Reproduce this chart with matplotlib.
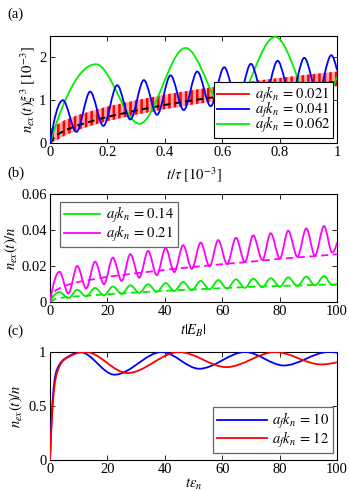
import numpy as np
import matplotlib
matplotlib.use("Agg")
import matplotlib.pyplot as plt
from matplotlib.path import Path
from matplotlib.patches import PathPatch
from matplotlib.lines import Line2D
from matplotlib.ticker import FuncFormatter

plt.rcParams['font.family'] = ['Liberation Serif', 'DejaVu Serif']
plt.rcParams['mathtext.fontset'] = 'stix'
plt.rcParams['font.size'] = 10.5
plt.rcParams['hatch.linewidth'] = 1.8

# ---------------- Panel (a) data ----------------
a_labels = [r'$a_fk_n\,=\,0.021$', r'$a_fk_n\,=\,0.041$', r'$a_fk_n\,=\,0.062$']
# red (0.021): fast oscillation band (lower / upper envelope)
red_t = [0, 0.02, 0.05, 0.1, 0.15, 0.2, 0.3, 0.4, 0.5, 0.6, 0.7, 0.8, 0.9, 1.0]
red_lo = [0, 0.05, 0.17, 0.31, 0.42, 0.51, 0.66, 0.79, 0.90, 1.00, 1.10, 1.18, 1.26, 1.33]
red_hi = [0.33, 0.41, 0.53, 0.66, 0.76, 0.85, 1.00, 1.13, 1.24, 1.34, 1.44, 1.52, 1.60, 1.67]
# black dashed mean
dash_t = [0, 0.02, 0.05, 0.1, 0.15, 0.2, 0.3, 0.4, 0.5, 0.6, 0.7, 0.8, 0.9, 1.0]
dash_y = [0, 0.17, 0.29, 0.42, 0.52, 0.61, 0.76, 0.89, 1.00, 1.10, 1.20, 1.28, 1.36, 1.43]
# blue (0.041): extrema
blue_t = [0, 0.045, 0.092, 0.140, 0.186, 0.234, 0.280, 0.327, 0.373, 0.420, 0.466,
          0.513, 0.560, 0.607, 0.653, 0.700, 0.746, 0.793, 0.840, 0.886, 0.933, 0.980, 1.0]
blue_y = [0, 1.00, 0.26, 1.20, 0.40, 1.35, 0.55, 1.47, 0.66, 1.58, 0.77,
          1.67, 0.86, 1.77, 0.94, 1.85, 1.02, 1.92, 1.08, 1.99, 1.14, 2.05, 1.70]
# green (0.062): extrema
green_t = [0, 0.160, 0.312, 0.472, 0.622, 0.785, 0.930, 1.0]
green_y = [0, 1.84, 0.45, 2.22, 0.65, 2.48, 0.75, 1.55]

# ---------------- Panel (b) data ----------------
b_labels = [r'$a_fk_n\,=\,0.14$', r'$a_fk_n\,=\,0.21$']
b_t = [0, 3.3, 6.4, 9.5, 12.6, 15.7, 18.8, 21.9, 25.0, 28.0, 31.1, 34.2, 37.2, 40.3, 43.3,
       46.4, 49.4, 52.5, 55.6, 58.6, 61.7, 64.8, 67.9, 70.8, 74.0, 76.9, 80.1, 83.0, 86.2,
       89.3, 92.3, 95.5, 98.3, 100]
mag_y = [0, 0.0168, 0.0047, 0.0200, 0.0075, 0.0224, 0.0099, 0.0246, 0.0117, 0.0266, 0.0135,
         0.0284, 0.0149, 0.0300, 0.0166, 0.0316, 0.0184, 0.0330, 0.0198, 0.0344, 0.0210,
         0.0357, 0.0222, 0.0370, 0.0233, 0.0382, 0.0242, 0.0396, 0.0251, 0.0409, 0.0258,
         0.0422, 0.0275, 0.0330]
grn_y = [0, 0.0055, 0.0022, 0.0068, 0.0031, 0.0078, 0.0038, 0.0086, 0.0045, 0.0093, 0.0051,
         0.0099, 0.0056, 0.0105, 0.0061, 0.0111, 0.0066, 0.0117, 0.0070, 0.0122, 0.0074,
         0.0126, 0.0078, 0.0130, 0.0082, 0.0132, 0.0085, 0.0137, 0.0089, 0.0141, 0.0092,
         0.0144, 0.0094, 0.0100]
magd_t = [0, 1, 2, 5, 10, 20, 30, 40, 50, 60, 70, 80, 90, 100]
magd_y = [0, 0.0045, 0.0065, 0.0090, 0.0112, 0.0140, 0.0160, 0.0178, 0.0195, 0.0210,
          0.0224, 0.0240, 0.0252, 0.0265]
grnd_t = [0, 2, 5, 10, 20, 30, 40, 50, 60, 70, 80, 90, 100]
grnd_y = [0, 0.0018, 0.0026, 0.0032, 0.0043, 0.0053, 0.0062, 0.0070, 0.0077, 0.0084,
          0.0089, 0.0094, 0.0098]

# ---------------- Panel (c) data ----------------
c_labels = [r'$a_fk_n\,=\,10$', r'$a_fk_n\,=\,12$']
c_blue_t = [0, 0.5, 1, 1.5, 2, 3, 4, 5, 6.5, 8, 10.5, 22.5, 39, 52, 68, 81.5, 97, 100]
c_blue_y = [0, 0.35, 0.58, 0.72, 0.80, 0.87, 0.91, 0.935, 0.96, 0.98, 1.0, 0.79, 1.0,
            0.845, 1.0, 0.875, 1.0, 0.995]
c_red_t = [0, 0.5, 1, 1.5, 2, 3, 4, 5, 6.5, 8, 10, 12.5, 27, 45, 61.5, 78.5, 94.5, 100]
c_red_y = [0, 0.30, 0.52, 0.67, 0.76, 0.85, 0.90, 0.93, 0.955, 0.975, 0.992, 1.0, 0.805,
           1.0, 0.86, 1.0, 0.885, 0.905]


def pchip_slopes(x, y):
    x = np.asarray(x, float); y = np.asarray(y, float)
    h = np.diff(x); d = np.diff(y) / h
    n = len(x); m = np.zeros(n)
    for k in range(1, n - 1):
        if d[k - 1] * d[k] > 0:
            w1 = 2 * h[k] + h[k - 1]; w2 = h[k] + 2 * h[k - 1]
            m[k] = (w1 + w2) / (w1 / d[k - 1] + w2 / d[k])
    def end(h0, h1, d0, d1):
        s = ((2 * h0 + h1) * d0 - h0 * d1) / (h0 + h1)
        if np.sign(s) != np.sign(d0):
            s = 0.0
        elif np.sign(d0) != np.sign(d1) and abs(s) > abs(3 * d0):
            s = 3 * d0
        return s
    m[0] = end(h[0], h[1], d[0], d[1])
    m[-1] = end(h[-1], h[-2], d[-1], d[-2])
    return x, y, m


def smooth_curve(ax, x, y, **kw):
    x, y, m = pchip_slopes(x, y)
    verts = [(x[0], y[0])]; codes = [Path.MOVETO]
    for k in range(len(x) - 1):
        hh = x[k + 1] - x[k]
        verts += [(x[k] + hh / 3, y[k] + m[k] * hh / 3),
                  (x[k + 1] - hh / 3, y[k + 1] - m[k + 1] * hh / 3),
                  (x[k + 1], y[k + 1])]
        codes += [Path.CURVE4] * 3
    p = PathPatch(Path(verts, codes), fill=False, **kw)
    ax.add_patch(p)
    return p


W, H = 349, 491
fig = plt.figure(figsize=(W / 100, H / 100), dpi=100)

def make_ax(top_px, bot_px):
    return fig.add_axes([50 / W, 1 - bot_px / H, 287 / W, (bot_px - top_px) / H])

fmt = FuncFormatter(lambda v, p: ('%g' % v))

def style(ax):
    ax.tick_params(direction='in', top=True, right=True, length=3.5, width=0.6, pad=2.5)
    for s in ax.spines.values():
        s.set_linewidth(0.8)
    ax.xaxis.set_major_formatter(fmt)
    ax.yaxis.set_major_formatter(fmt)

LW = 1.3
leg_kw = dict(borderaxespad=0, fancybox=False, framealpha=1, handletextpad=0.4)

# ---- (a)
ax1 = make_ax(36, 143)
ax1.fill_between(red_t, red_lo, red_hi, facecolor='#ffa8a8', edgecolor='#ff0000',
                 hatch='|||', linewidth=0, zorder=1)
ax1.plot(dash_t, dash_y, color='k', ls=(0, (3.5, 2.2)), lw=1.4, zorder=2)
smooth_curve(ax1, green_t, green_y, edgecolor='#00ee00', lw=LW, zorder=3)
smooth_curve(ax1, blue_t, blue_y, edgecolor='#0000ff', lw=LW, zorder=4)
ax1.set_xlim(0, 1); ax1.set_ylim(0, 2.5)
ax1.set_xticks([0, 0.2, 0.4, 0.6, 0.8, 1]); ax1.set_yticks([0, 1, 2])
style(ax1)
ax1.set_xlabel(r'$t/\tau\ [10^{-3}]$')
ax1.xaxis.set_label_coords(0.5, -0.21)
ax1.set_ylabel(r'$n_{ex}(t)\xi^3\ [10^{-3}]$')
ax1.yaxis.set_label_coords(-0.042, 0.5)
h1 = [Line2D([], [], color='#ff0000', lw=LW), Line2D([], [], color='#0000ff', lw=LW),
      Line2D([], [], color='#00ee00', lw=LW)]
lg = ax1.legend(h1, a_labels, loc='lower right', bbox_to_anchor=(0.986, 0.047),
                edgecolor='k', handlelength=2.2, labelspacing=-0.35, borderpad=0.2,
                **leg_kw)
lg.get_frame().set_linewidth(0.8)

# ---- (b)
ax2 = make_ax(194, 302)
ax2.plot(grnd_t, grnd_y, color='#00ee00', ls=(0, (4, 2.5)), lw=LW)
ax2.plot(magd_t, magd_y, color='#ff00ff', ls=(0, (4, 2.5)), lw=LW)
smooth_curve(ax2, b_t, grn_y, edgecolor='#00ee00', lw=LW, zorder=3)
smooth_curve(ax2, b_t, mag_y, edgecolor='#ff00ff', lw=LW, zorder=3)
ax2.set_xlim(0, 100); ax2.set_ylim(0, 0.06)
ax2.set_xticks([0, 20, 40, 60, 80, 100]); ax2.set_yticks([0, 0.02, 0.04, 0.06])
style(ax2)
ax2.set_xlabel(r'$t|E_B|$')
ax2.xaxis.set_label_coords(0.5, -0.19)
ax2.set_ylabel(r'$n_{ex}(t)/n$')
ax2.yaxis.set_label_coords(-0.105, 0.5)
h2 = [Line2D([], [], color='#00ee00', lw=LW), Line2D([], [], color='#ff00ff', lw=LW)]
lg = ax2.legend(h2, b_labels, loc='upper left', bbox_to_anchor=(0.035, 0.93),
                edgecolor='0.4', handlelength=2.5, labelspacing=-0.1, borderpad=0.25,
                **leg_kw)
lg.get_frame().set_linewidth(0.9)

# ---- (c)
ax3 = make_ax(352, 460)
smooth_curve(ax3, c_blue_t, c_blue_y, edgecolor='#0000ff', lw=LW, zorder=3)
smooth_curve(ax3, c_red_t, c_red_y, edgecolor='#ff0000', lw=LW, zorder=3)
ax3.set_xlim(0, 100); ax3.set_ylim(0, 1)
ax3.set_xticks([0, 20, 40, 60, 80, 100]); ax3.set_yticks([0, 0.5, 1])
style(ax3)
ax3.set_xlabel(r'$t\epsilon_n$')
ax3.xaxis.set_label_coords(0.5, -0.155)
ax3.set_ylabel(r'$n_{ex}(t)/n$')
ax3.yaxis.set_label_coords(-0.087, 0.5)
h3 = [Line2D([], [], color='#0000ff', lw=LW), Line2D([], [], color='#ff0000', lw=LW)]
lg = ax3.legend(h3, c_labels, loc='lower right', bbox_to_anchor=(0.987, 0.062),
                edgecolor='0.4', handlelength=3.4, labelspacing=-0.1, borderpad=0.25,
                **leg_kw)
lg.get_frame().set_linewidth(0.9)

fig.text(7 / W, 1 - 14 / H, '(a)', va='center', ha='left', fontsize=10.5)
fig.text(7 / W, 1 - 173 / H, '(b)', va='center', ha='left', fontsize=10.5)
fig.text(7 / W, 1 - 331 / H, '(c)', va='center', ha='left', fontsize=10.5)

fig.savefig('out.png', dpi=100)
